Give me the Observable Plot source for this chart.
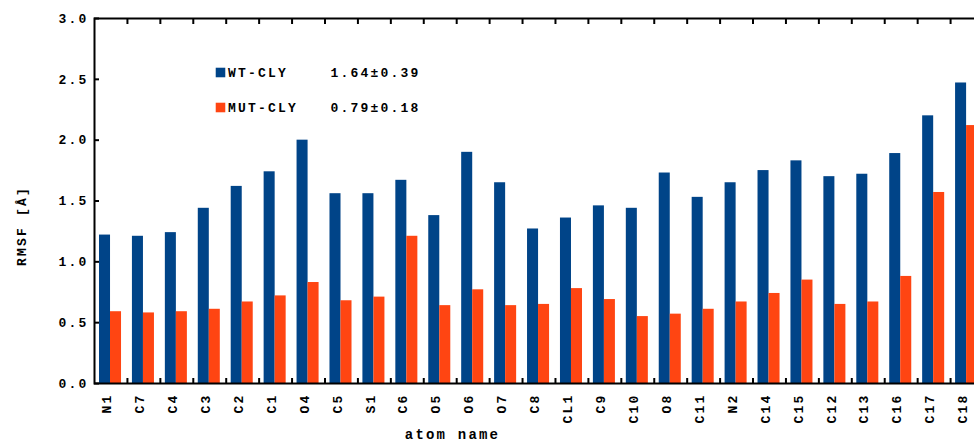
<!DOCTYPE html>
<html>
<head>
<meta charset="utf-8">
<script src="https://cdn.jsdelivr.net/npm/d3@7"></script>
<script src="https://cdn.jsdelivr.net/npm/@observablehq/plot@0.6"></script>
<style>
  html, body { margin: 0; padding: 0; background: white; }
  #wrap { width: 974px; height: 444px; overflow: hidden; }
</style>
</head>
<body>
<div id="wrap"></div>
<script>
const atoms = ["N1","C7","C4","C3","C2","C1","O4","C5","S1","C6","O5","O6","O7","C8","CL1","C9","C10","O8","C11","N2","C14","C15","C12","C13","C16","C17","C18"];
const wtValues  = [1.22,1.21,1.24,1.44,1.62,1.74,2.00,1.56,1.56,1.67,1.38,1.90,1.65,1.27,1.36,1.46,1.44,1.73,1.53,1.65,1.75,1.83,1.70,1.72,1.89,2.20,2.47];
const mutValues = [0.59,0.58,0.59,0.61,0.67,0.72,0.83,0.68,0.71,1.21,0.64,0.77,0.64,0.65,0.78,0.69,0.55,0.57,0.61,0.67,0.74,0.85,0.65,0.67,0.88,1.57,2.12];
const seriesNames = ["WT-CLY","MUT-CLY"];
const seriesStats = ["1.64±0.39","0.79±0.18"];
const seriesColors = ["#004488","#ff4512"];
const yTicks = [0, 0.5, 1.0, 1.5, 2.0, 2.5, 3.0];
const yLabel = "RMSF [Å]";
const xLabel = "atom name";

const wtData = atoms.map((a, i) => ({atom: a, value: wtValues[i]}));
const mutData = atoms.map((a, i) => ({atom: a, value: mutValues[i]}));

const fontFamily = "'Liberation Mono', 'DejaVu Sans Mono', monospace";

const chart = Plot.plot({
  width: 983,
  height: 444,
  marginLeft: 94,
  marginRight: 0,
  marginTop: 18,
  marginBottom: 61,
  style: {fontFamily, fontWeight: "bold", fontSize: "13px", letterSpacing: "2.2px", maxWidth: "none", background: "white", color: "black"},
  x: {domain: atoms, padding: 0, round: false, axis: null},
  y: {domain: [0, 3], axis: null},
  marks: [
    Plot.barY(wtData, {x: "atom", y: "value", fill: seriesColors[0], insetLeft: 5, insetRight: 16.9}),
    Plot.barY(mutData, {x: "atom", y: "value", fill: seriesColors[1], insetLeft: 16, insetRight: 5.9}),
    Plot.frame({stroke: "black", strokeWidth: 2}),
    Plot.axisY({ticks: yTicks, tickFormat: d3.format(".1f"), tickSize: -5, tickPadding: 11, strokeWidth: 2, label: null, fontSize: 13}),
    Plot.axisX({ticks: atoms, tickSize: 0, tickRotate: -90, tickPadding: 10, label: null, fontSize: 13, dx: -4}),
    Plot.axisX({anchor: "bottom", ticks: atoms, tickSize: -5, strokeWidth: 2, tickFormat: () => "", label: null, dx: 16.47}),
    Plot.axisX({anchor: "top", ticks: atoms, tickSize: -5, strokeWidth: 2, tickFormat: () => "", label: null, dx: 16.47}),
    Plot.text([yLabel], {frameAnchor: "left", text: d => d, rotate: -90, dx: -73, dy: 25, fontSize: 13, textAnchor: "middle", lineAnchor: "middle"}),
    Plot.text([xLabel], {frameAnchor: "bottom", text: d => d, dx: -86.5, dy: 51, fontSize: 14, textAnchor: "middle", lineAnchor: "middle"}),
    ...seriesNames.map((s, i) => Plot.dot([s], {frameAnchor: "top-left", dx: 126, dy: 54 + 35 * i, symbol: "square", r: 5.4, fill: seriesColors[i], stroke: null})),
    ...seriesNames.map((s, i) => Plot.text([s], {frameAnchor: "top-left", text: d => d, dx: 133.5, dy: 54 + 35 * i, textAnchor: "start", lineAnchor: "middle", fontSize: 13})),
    ...seriesStats.map((s, i) => Plot.text([s], {frameAnchor: "top-left", text: d => d, dx: 236, dy: 54 + 35 * i, textAnchor: "start", lineAnchor: "middle", fontSize: 13}))
  ]
});
document.getElementById("wrap").appendChild(chart);
</script>
</body>
</html>
